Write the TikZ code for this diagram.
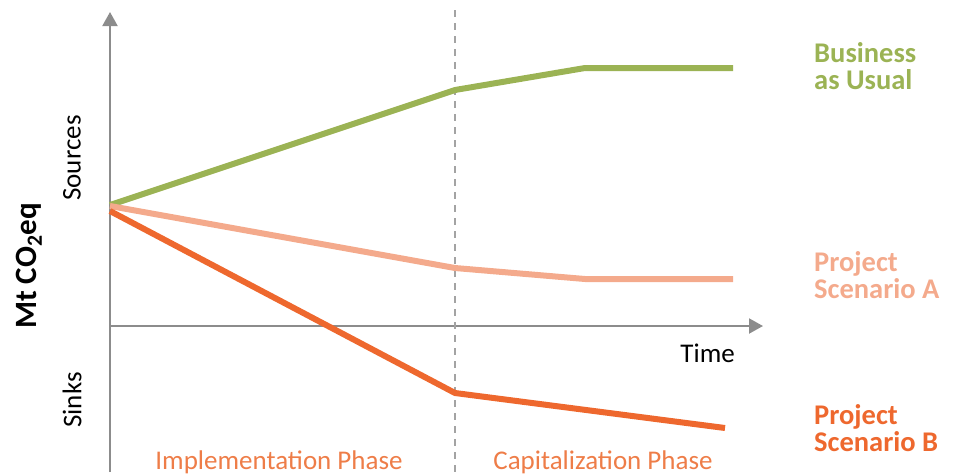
\documentclass[tikz,border=0pt]{standalone}
\usepackage{fontspec}
\setmainfont{Carlito}
\usetikzlibrary{arrows.meta}

\definecolor{usualgreen}{RGB}{155,179,84}
\definecolor{scenarioa}{RGB}{244,170,140}
\definecolor{scenariob}{RGB}{238,104,46}
\definecolor{phaseorange}{RGB}{238,125,72}
\definecolor{axisgray}{RGB}{140,140,140}

\tikzset{
    axis/.style = {axisgray, line width = 2pt, -{Triangle[length = 14pt, width = 15pt]}},
    phaseline/.style = {axisgray!80, line width = 2pt, dash pattern = on 7pt off 6pt},
    scenario/.style = {line width = 6pt, line join = round},
    legend/.style = {anchor = north west, inner sep = 0pt, align = left, font = \fontsize{28.5}{27}\selectfont\bfseries},
    label/.style = {inner sep = 0pt, font = \fontsize{27}{27}\selectfont},
}

\begin{document}
\begin{tikzpicture}[x = 1pt, y = -1pt]
    \useasboundingbox (0, 0) rectangle (961, 475);

    \def\xorigin {110}
    \def\yzero {326}
    \def\xphase {455}
    \def\xflat {585}

    % axes
    \coordinate (y bottom) at (\xorigin, 472);
    \coordinate (y top) at (\xorigin, 12);
    \coordinate (x left) at (\xorigin, \yzero);
    \coordinate (x right) at (763, \yzero);
    \draw [axis] (y bottom) -- (y top);
    \draw [axis] (x left) -- (x right);

    % phase boundary
    \coordinate (phase top) at (\xphase, 10);
    \coordinate (phase bottom) at (\xphase, 475);
    \draw [phaseline] (phase top) -- (phase bottom);

    % scenarios
    \coordinate (bau start) at (\xorigin, 205);
    \coordinate (bau phase) at (\xphase, 90);
    \coordinate (bau flat) at (\xflat, 68);
    \coordinate (bau end) at (733, 68);
    \draw [scenario, usualgreen] (bau start) -- (bau phase) -- (bau flat) -- (bau end);

    \coordinate (a start) at (\xorigin, 206);
    \coordinate (a phase) at (\xphase, 268);
    \coordinate (a flat) at (\xflat, 279);
    \coordinate (a end) at (733, 279);
    \draw [scenario, scenarioa] (a start) -- (a phase) -- (a flat) -- (a end);

    \coordinate (b start) at (\xorigin, 211);
    \coordinate (b phase) at (\xphase, 393);
    \coordinate (b end) at (725, 428);
    \draw [scenario, scenariob] (b start) -- (b phase) -- (b end);

    % legend
    \node [legend, usualgreen] (bau label) at (814, 42) {Business\\as Usual};
    \node [legend, scenarioa] (a label) at (814, 251) {Project\\Scenario A};
    \node [legend, scenariob] (b label) at (814, 404) {Project\\Scenario B};

    % axis labels
    \node [label, anchor = base east] (time) at (735, 362) {Time};
    \node [label, rotate = 90] (sources) at (72, 158) {Sources};
    \node [label, rotate = 90] (sinks) at (72, 400) {Sinks};
    \node [label, rotate = 90, font = \fontsize{31}{31}\selectfont\bfseries] (unit) at (29, 266) {Mt CO\textsubscript{2}eq};

    \node [label, phaseorange, anchor = base] (implementation) at (279, 469) {Implementation Phase};
    \node [label, phaseorange, anchor = base] (capitalization) at (603, 469) {Capitalization Phase};
\end{tikzpicture}
\end{document}
